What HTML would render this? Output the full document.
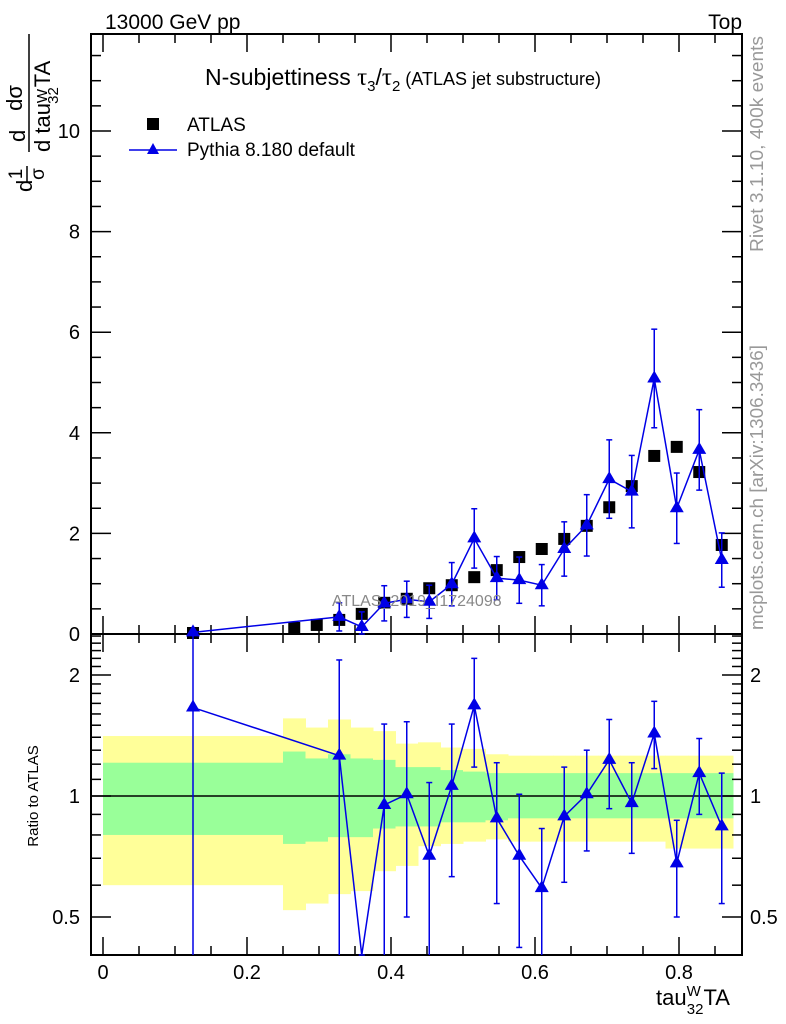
<!DOCTYPE html>
<html><head><meta charset="utf-8"><style>
html,body{margin:0;padding:0;background:#fff;}
svg{display:block;font-family:"Liberation Sans",sans-serif;}
</style></head><body>
<svg id="chart" width="786" height="1024" viewBox="0 0 786 1024" xmlns="http://www.w3.org/2000/svg">
<g id="bands"></g>
<g id="axes"></g>
<g id="series"></g>
<text x="105" y="29" font-size="21">13000 GeV pp</text>
<text x="742" y="29" font-size="21" text-anchor="end">Top</text>
<text x="205" y="85" font-size="23">N-subjettiness <tspan font-family="Liberation Serif" font-size="25">τ</tspan><tspan font-size="15" dy="6">3</tspan><tspan dy="-6">/</tspan><tspan font-family="Liberation Serif" font-size="25">τ</tspan><tspan font-size="15" dy="6">2</tspan><tspan dy="-6" font-size="18"> (ATLAS jet substructure)</tspan></text>
<rect x="147" y="118" width="12" height="12" fill="#000"/>
<text x="187" y="131" font-size="19">ATLAS</text>
<line x1="129" y1="150" x2="177" y2="150" stroke="#0000e6" stroke-width="1.5"/>
<polygon points="153,143 159,154 147,154" fill="#0000e6"/>
<text x="187" y="156" font-size="19">Pythia 8.180 default</text>
<text x="332" y="606" font-size="16" fill="#888">ATLAS_2019_I1724098</text>
<text transform="translate(763,252) rotate(-90)" font-size="18" fill="#999" textLength="216" lengthAdjust="spacingAndGlyphs">Rivet 3.1.10,  400k events</text>
<text transform="translate(763,630) rotate(-90)" font-size="18" fill="#999" textLength="285" lengthAdjust="spacingAndGlyphs">mcplots.cern.ch [arXiv:1306.3436]</text>
<g transform="rotate(-90)">
<text x="-192" y="32" font-size="22">d</text>
<text x="-174" y="22" font-size="19" text-anchor="middle">1</text>
<line x1="-182" y1="27" x2="-166" y2="27" stroke="#000" stroke-width="1.5"/>
<text x="-174" y="44" font-size="19" text-anchor="middle">σ</text>
<text x="-142" y="25" font-size="22" text-anchor="start">d</text>
<text x="-98" y="22" font-size="22" text-anchor="middle">dσ</text>
<line x1="-152" y1="29" x2="-34" y2="29" stroke="#000" stroke-width="1.5"/>
<text x="-152" y="50" font-size="22">d tau<tspan font-size="15" dy="-3">W</tspan><tspan font-size="15" dy="11" dx="-15">32</tspan><tspan dy="-8">TA</tspan></text>
</g>
<text transform="translate(38,796) rotate(-90)" font-size="15" text-anchor="middle">Ratio to ATLAS</text>
<text x="656" y="1005" font-size="22">tau<tspan font-size="15" dy="-9">W</tspan><tspan font-size="15" dy="18" dx="-14">32</tspan><tspan dy="-9">TA</tspan></text>
</svg>
<script>
// ---- data ----
const binLo = [0.0,0.25,0.28125,0.3125,0.34375,0.375,0.40625,0.4375,0.46875,0.5,0.53125,0.5625,0.59375,0.625,0.65625,0.6875,0.71875,0.75,0.78125,0.8125,0.84375];
const binHi = [0.25,0.28125,0.3125,0.34375,0.375,0.40625,0.4375,0.46875,0.5,0.53125,0.5625,0.59375,0.625,0.65625,0.6875,0.71875,0.75,0.78125,0.8125,0.84375,0.875];
const atlasVals = [0.02,0.12,0.18,0.28,0.40,0.62,0.70,0.91,0.97,1.13,1.27,1.53,1.69,1.89,2.15,2.52,2.94,3.54,3.72,3.22,1.77];
const pythiaVals = [0.033,null,null,0.34,0.14,0.61,0.69,0.64,0.99,1.90,1.11,1.07,0.97,1.69,2.16,3.08,2.83,5.08,2.50,3.66,1.47];
const pythiaErr = [0.03,null,null,0.28,0.3,0.35,0.36,0.33,0.43,0.59,0.43,0.46,0.41,0.54,0.61,0.78,0.72,0.98,0.7,0.8,0.54];
const ratioVals = [1.66,null,null,1.26,0.34,0.95,1.01,0.71,1.06,1.68,0.88,0.71,0.59,0.89,1.01,1.23,0.96,1.43,0.68,1.14,0.84];
const ratioHi = [3.0,null,null,2.18,0.34,1.51,1.53,1.08,1.51,2.20,1.21,1.01,0.83,1.18,1.30,1.55,1.21,1.72,0.87,1.39,1.14];
const ratioLo = [0.3,null,null,0.3,0.34,0.3,0.50,0.3,0.63,1.18,0.54,0.42,0.3,0.61,0.73,0.93,0.72,1.17,0.50,0.90,0.54];
const totHi = [1.41,1.56,1.48,1.55,1.48,1.45,1.35,1.36,1.32,1.31,1.27,1.26,1.26,1.26,1.26,1.26,1.26,1.26,1.26,1.26,1.26];
const totLo = [0.60,0.52,0.54,0.57,0.58,0.65,0.67,0.75,0.76,0.77,0.78,0.77,0.77,0.77,0.77,0.77,0.77,0.77,0.74,0.74,0.74];
const statHi = [1.21,1.29,1.24,1.27,1.24,1.23,1.18,1.18,1.16,1.15,1.14,1.14,1.14,1.14,1.14,1.14,1.14,1.14,1.14,1.14,1.14];
const statLo = [0.80,0.76,0.77,0.79,0.79,0.83,0.84,0.84,0.86,0.86,0.87,0.88,0.88,0.88,0.88,0.88,0.88,0.88,0.88,0.88,0.88];
const xTickLabels = ["0","0.2","0.4","0.6","0.8"];
const yTickLabels = ["0","2","4","6","8","10"];
const rTickLabels = ["0.5","1","2"];

const NS="http://www.w3.org/2000/svg";
const L=91,R=742,T=34,M=634,B=955;
const X=v=>103+720*v;
const Y=v=>634-50.3*v;
const RY=r=>{const y=796-121*Math.log2(r);return Math.max(M,Math.min(B,y));};
const RYraw=r=>796-121*Math.log2(r);
function mk(tag,attrs,parent){const e=document.createElementNS(NS,tag);for(const k in attrs)e.setAttribute(k,attrs[k]);parent.appendChild(e);return e;}
const axes=document.getElementById('axes'),bands=document.getElementById('bands'),series=document.getElementById('series');
const BLUE="#0000e6";

// bands
for(let i=0;i<binLo.length;i++){
  const y1=mk('rect',{x:X(binLo[i]),y:RY(totHi[i]),width:X(binHi[i])-X(binLo[i])+0.5,height:RY(totLo[i])-RY(totHi[i]),fill:"#ffff99"},bands);
  
  
  const g1=mk('rect',{x:X(binLo[i]),y:RY(statHi[i]),width:X(binHi[i])-X(binLo[i])+0.5,height:RY(statLo[i])-RY(statHi[i]),fill:"#99ff99"},bands);
  
  
}
// frames
const f1=mk('rect',{x:L,y:T,width:R-L,height:M-T,fill:"none",stroke:"#000","stroke-width":2},axes);


const f2=mk('rect',{x:L,y:M,width:R-L,height:B-M,fill:"none",stroke:"#000","stroke-width":2},axes);


const one=mk('line',{x1:L,x2:R,y1:RYraw(1),y2:RYraw(1),stroke:"#000","stroke-width":1.5},axes);


// x ticks
for(let k=0;k<=17;k++){
  const v=k*0.05,x=X(v),big=(k%4===0),len=big?18:9;
  [[T,T+len],[M,M-len],[M,M+len],[B,B-len]].forEach(p=>mk('line',{x1:x,x2:x,y1:p[0],y2:p[1],stroke:"#000","stroke-width":1.5},axes));
}
xTickLabels.forEach((s,i)=>{const t=mk('text',{x:X(i*0.2),y:979,"font-size":20,"text-anchor":"middle"},axes);t.textContent=s;

});
// upper y ticks
for(let k=0;k<=23;k++){
  const v=k*0.5,y=Y(v),big=(k%4===0),len=big?20:10;
  mk('line',{x1:L,x2:L+len,y1:y,y2:y,stroke:"#000","stroke-width":1.5},axes);
  mk('line',{x1:R,x2:R-len,y1:y,y2:y,stroke:"#000","stroke-width":1.5},axes);
}
yTickLabels.forEach((s,i)=>{const t=mk('text',{x:80,y:Y(i*2)+7,"font-size":20,"text-anchor":"end"},axes);t.textContent=s;

});
// ratio ticks
const rMinor=[0.4,0.6,0.7,0.8,0.9,1.1,1.2,1.3,1.4,1.5,1.6,1.7,1.8,1.9,2.1,2.2,2.3,2.4,2.5];
rMinor.forEach(r=>{const y=RYraw(r);if(y<M||y>B)return;
  mk('line',{x1:L,x2:L+10,y1:y,y2:y,stroke:"#000","stroke-width":1.5},axes);
  mk('line',{x1:R,x2:R-10,y1:y,y2:y,stroke:"#000","stroke-width":1.5},axes);});
[0.5,1,2].forEach((r,i)=>{const y=RYraw(r);
  mk('line',{x1:L,x2:L+20,y1:y,y2:y,stroke:"#000","stroke-width":1.5},axes);
  mk('line',{x1:R,x2:R-20,y1:y,y2:y,stroke:"#000","stroke-width":1.5},axes);
  const t=mk('text',{x:80,y:y+7,"font-size":20,"text-anchor":"end"},axes);t.textContent=rTickLabels[i];
  
  
  const t2=mk('text',{x:750,y:y+7,"font-size":20},axes);t2.textContent=rTickLabels[i];
  
  });

const cx=i=>X((binLo[i]+binHi[i])/2);
function tri(x,y,g){return mk('polygon',{points:`${x},${y-8} ${x+7},${y+4} ${x-7},${y+4}`,fill:BLUE},g);}
// ATLAS markers
atlasVals.forEach((v,i)=>{const r=mk('rect',{x:cx(i)-6,y:Y(v)-6,width:12,height:12,fill:"#000"},series);

});
// Pythia upper
let pts=[];
pythiaVals.forEach((v,i)=>{if(v==null)return;pts.push(cx(i)+","+Y(v));});
const pl=mk('polyline',{points:pts.join(" "),fill:"none",stroke:BLUE,"stroke-width":1.5},series);


pythiaVals.forEach((v,i)=>{if(v==null)return;const x=cx(i),e=pythiaErr[i];
  const yt=Y(v+e),yb=Math.min(M,Y(v-e));
  mk('line',{x1:x,x2:x,y1:yt,y2:yb,stroke:BLUE,"stroke-width":1.5},series);
  mk('line',{x1:x-3,x2:x+3,y1:yt,y2:yt,stroke:BLUE,"stroke-width":1.5},series);
  mk('line',{x1:x-3,x2:x+3,y1:yb,y2:yb,stroke:BLUE,"stroke-width":1.5},series);
  const t=tri(x,Y(v),series);
  
  });
// ratio
pts=[];
ratioVals.forEach((v,i)=>{if(v==null)return;pts.push(cx(i)+","+RY(v));});
const rl=mk('polyline',{points:pts.join(" "),fill:"none",stroke:BLUE,"stroke-width":1.5},series);


ratioVals.forEach((v,i)=>{if(v==null)return;const x=cx(i);
  const yt=RY(ratioHi[i]),yb=RY(ratioLo[i]);
  mk('line',{x1:x,x2:x,y1:yt,y2:yb,stroke:BLUE,"stroke-width":1.5},series);
  if(yt>M)mk('line',{x1:x-3,x2:x+3,y1:yt,y2:yt,stroke:BLUE,"stroke-width":1.5},series);
  if(yb<B)mk('line',{x1:x-3,x2:x+3,y1:yb,y2:yb,stroke:BLUE,"stroke-width":1.5},series);
  const yc=RYraw(v);
  if(yc>=M&&yc<=B){const t=tri(x,yc,series);
  
  }});
</script>
</body></html>
